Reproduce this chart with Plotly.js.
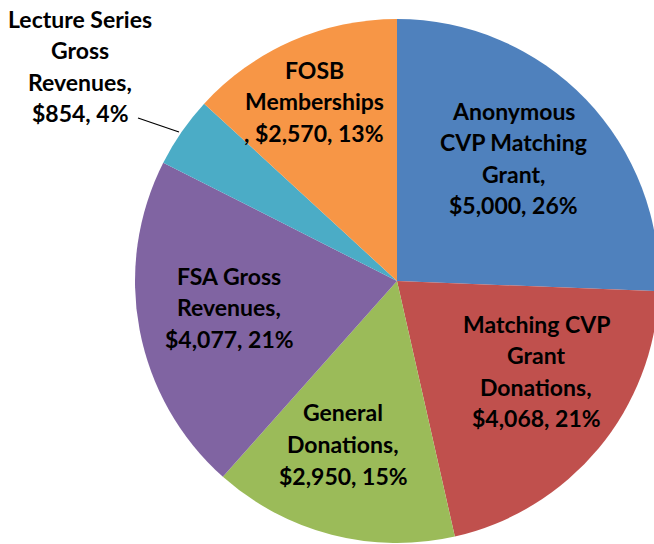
<!DOCTYPE html>
<html><head><meta charset="utf-8">
<script src="https://cdn.plot.ly/plotly-3.0.1.min.js"></script>
<style>html,body{margin:0;padding:0;overflow:hidden;background:#fff}</style>
</head><body>
<div id="chart" style="width:660px;height:544px"></div>
<script>
var categories = ["Anonymous CVP Matching Grant","Matching CVP Grant Donations","General Donations","FSA Gross Revenues","Lecture Series Gross Revenues","FOSB Memberships"];
var values = [5000, 4068, 2950, 4077, 854, 2570];
var colors = ["#4F81BD","#C0504D","#9BBB59","#8064A2","#4BACC6","#F79646"];
var labelLines = [
  ["Anonymous","CVP Matching","Grant,"],
  ["Matching CVP","Grant","Donations,"],
  ["General","Donations,"],
  ["FSA Gross","Revenues,"],
  ["Lecture Series","Gross","Revenues,"],
  ["FOSB","Memberships",","]
];
// label block centres in pixels (page)
var labelPos = [[513,158],[536,371],[343,444],[229,307],[80,66],[314,101]];

var W = 660, H = 544, ML = 134, MR = 0, MT = 19, MB = 1;
var PW = W - ML - MR, PH = H - MT - MB;
function px2x(px){ return (px - ML) / PW; }
function py2y(py){ return (H - MB - py) / PH; }

var total = values.reduce(function(a,b){return a+b;},0);
function fmt(v){ return "$" + v.toLocaleString("en-US"); }

var annotations = [];
var lineGap = 31.5;
for (var i = 0; i < categories.length; i++) {
  var lines = labelLines[i].slice();
  var valStr = fmt(values[i]) + ", " + Math.round(values[i]/total*100) + "%";
  if (lines[lines.length-1] === ",") { lines[lines.length-1] = ", " + valStr; }
  else lines.push(valStr);
  var n = lines.length;
  for (var j = 0; j < n; j++) {
    var cy = labelPos[i][1] + (j - (n-1)/2) * lineGap;
    annotations.push({
      text: lines[j], xref: "paper", yref: "paper",
      x: px2x(labelPos[i][0]), y: py2y(cy), xanchor: "center", yanchor: "middle",
      showarrow: false, font: {family: "Lato, 'Open Sans', sans-serif", size: 23, color: "#000", weight: "bold"}
    });
  }
}

var data = [{
  type: "pie", labels: categories, values: values, sort: false, direction: "clockwise", rotation: 0,
  marker: {colors: colors, line: {width: 0}}, textinfo: "none", hoverinfo: "skip", showlegend: false,
  domain: {x: [0,1], y: [0,1]}
}];

var layout = {
  width: W, height: H, margin: {l: ML, r: MR, t: MT, b: MB, pad: 0},
  paper_bgcolor: "#fff", plot_bgcolor: "#fff", showlegend: false,
  annotations: annotations,
  shapes: [{type: "line", xref: "paper", yref: "paper", x0: px2x(138), y0: py2y(118), x1: px2x(179), y1: py2y(132), line: {color: "#000", width: 1.3}}]
};
Plotly.newPlot("chart", data, layout, {staticPlot: true, displayModeBar: false});
</script>
</body></html>
